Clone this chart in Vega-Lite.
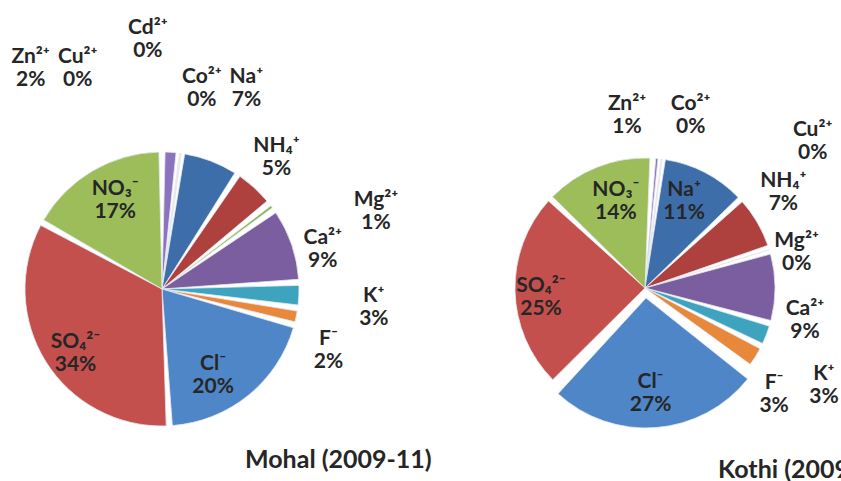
{
  "$schema": "https://vega.github.io/schema/vega-lite/v6.json",
  "width": 841,
  "height": 481,
  "autosize": {"type": "none"},
  "padding": 0,
  "background": "white",
  "config": {
    "view": {"stroke": null},
    "text": {"font": "Lato", "fontWeight": "bold", "fontSize": 21, "lineBreak": "\n", "lineHeight": 23, "color": "#262626", "align": "center", "baseline": "middle"}
  },
  "datasets": {
    "mohal": [
      {"site": "Mohal", "ion": "Zn", "o": 1, "value": 2, "label": "Zn²⁺\n2%"},
      {"site": "Mohal", "ion": "Cu", "o": 2, "value": 0.1, "label": "Cu²⁺\n0%"},
      {"site": "Mohal", "ion": "Cd", "o": 3, "value": 0.1, "label": "Cd²⁺\n0%"},
      {"site": "Mohal", "ion": "Co", "o": 4, "value": 0.1, "label": "Co²⁺\n0%"},
      {"site": "Mohal", "ion": "Na", "o": 5, "value": 7, "label": "Na⁺\n7%"},
      {"site": "Mohal", "ion": "NH4", "o": 6, "value": 5, "label": "NH₄⁺\n5%"},
      {"site": "Mohal", "ion": "Mg", "o": 7, "value": 1, "label": "Mg²⁺\n1%"},
      {"site": "Mohal", "ion": "Ca", "o": 8, "value": 9, "label": "Ca²⁺\n9%"},
      {"site": "Mohal", "ion": "K", "o": 9, "value": 3, "label": "K⁺\n3%"},
      {"site": "Mohal", "ion": "F", "o": 10, "value": 2, "label": "F⁻\n2%"},
      {"site": "Mohal", "ion": "Cl", "o": 11, "value": 20, "label": "Cl⁻\n20%"},
      {"site": "Mohal", "ion": "SO4", "o": 12, "value": 34, "label": "SO₄²⁻\n34%"},
      {"site": "Mohal", "ion": "NO3", "o": 13, "value": 17, "label": "NO₃⁻\n17%"}
    ],
    "kothi": [
      {"site": "Kothi", "ion": "Zn", "o": 1, "value": 1, "label": "Zn²⁺\n1%"},
      {"site": "Kothi", "ion": "Co", "o": 2, "value": 0.1, "label": "Co²⁺\n0%"},
      {"site": "Kothi", "ion": "Cu", "o": 3, "value": 0.1, "label": "Cu²⁺\n0%"},
      {"site": "Kothi", "ion": "Na", "o": 4, "value": 11, "label": "Na⁺\n11%"},
      {"site": "Kothi", "ion": "NH4", "o": 5, "value": 7, "label": "NH₄⁺\n7%"},
      {"site": "Kothi", "ion": "Mg", "o": 6, "value": 0.4, "label": "Mg²⁺\n0%"},
      {"site": "Kothi", "ion": "Ca", "o": 7, "value": 9, "label": "Ca²⁺\n9%"},
      {"site": "Kothi", "ion": "K", "o": 8, "value": 3, "label": "K⁺\n3%"},
      {"site": "Kothi", "ion": "F", "o": 9, "value": 3, "label": "F⁻\n3%"},
      {"site": "Kothi", "ion": "Cl", "o": 10, "value": 27, "label": "Cl⁻\n27%"},
      {"site": "Kothi", "ion": "SO4", "o": 11, "value": 25, "label": "SO₄²⁻\n25%"},
      {"site": "Kothi", "ion": "NO3", "o": 12, "value": 14, "label": "NO₃⁻\n14%"}
    ],
    "titles": [
      {"site": "Mohal", "title": "Mohal (2009-11)"},
      {"site": "Kothi", "title": "Kothi (2009-11)"}
    ]
  },
  "layer": [
    {
      "data": {"name": "mohal"},
      "encoding": {
        "x": {"field": "site", "type": "nominal", "scale": {"type": "point", "domain": ["Mohal", "Kothi"], "range": [162, 645], "padding": 0}, "axis": null},
        "y": {"field": "site", "type": "nominal", "scale": {"type": "point", "domain": ["Mohal", "Kothi"], "range": [289, 288], "padding": 0}, "axis": null},
        "theta": {"field": "value", "type": "quantitative", "stack": true, "scale": {"range": [0, 6.2832]}},
        "order": {"field": "o", "type": "quantitative"}
      },
      "layer": [
        {
          "mark": {"type": "arc", "outerRadius": 137, "padAngle": 0.045, "stroke": "#e4e9f0", "strokeWidth": 0.8},
          "encoding": {
            "color": {"field": "ion", "type": "nominal", "legend": null,
              "scale": {"domain": ["Zn", "Cu", "Cd", "Co", "Na", "NH4", "Mg", "Ca", "K", "F", "Cl", "SO4", "NO3"],
                        "range": ["#8B74BD", "#4F81BD", "#C0504D", "#9BBB59", "#3E6EA9", "#AE403D", "#8AB44F", "#7B5EA0", "#3DA3BF", "#E8883A", "#4F86C7", "#C4504D", "#9DBD5B"]}}
          }
        },
        {"mark": {"type": "text", "radius": 170, "dx": -142, "dy": -62}, "encoding": {"text": {"condition": {"test": "datum.ion === 'Zn'", "field": "label", "type": "nominal"}, "value": ""}}},
        {"mark": {"type": "text", "radius": 170, "dx": -106, "dy": -63}, "encoding": {"text": {"condition": {"test": "datum.ion === 'Cu'", "field": "label", "type": "nominal"}, "value": ""}}},
        {"mark": {"type": "text", "radius": 170, "dx": -37, "dy": -93}, "encoding": {"text": {"condition": {"test": "datum.ion === 'Cd'", "field": "label", "type": "nominal"}, "value": ""}}},
        {"mark": {"type": "text", "radius": 170, "dx": 16, "dy": -44}, "encoding": {"text": {"condition": {"test": "datum.ion === 'Co'", "field": "label", "type": "nominal"}, "value": ""}}},
        {"mark": {"type": "text", "radius": 170, "dx": 24, "dy": -53}, "encoding": {"text": {"condition": {"test": "datum.ion === 'Na'", "field": "label", "type": "nominal"}, "value": ""}}},
        {"mark": {"type": "text", "radius": 170, "dx": 0, "dy": -17}, "encoding": {"text": {"condition": {"test": "datum.ion === 'NH4'", "field": "label", "type": "nominal"}, "value": ""}}},
        {"mark": {"type": "text", "radius": 170, "dx": 78, "dy": 13}, "encoding": {"text": {"condition": {"test": "datum.ion === 'Mg'", "field": "label", "type": "nominal"}, "value": ""}}},
        {"mark": {"type": "text", "radius": 170, "dx": 0, "dy": 4}, "encoding": {"text": {"condition": {"test": "datum.ion === 'Ca'", "field": "label", "type": "nominal"}, "value": ""}}},
        {"mark": {"type": "text", "radius": 170, "dx": 42, "dy": -1}, "encoding": {"text": {"condition": {"test": "datum.ion === 'K'", "field": "label", "type": "nominal"}, "value": ""}}},
        {"mark": {"type": "text", "radius": 170, "dx": 0, "dy": 16}, "encoding": {"text": {"condition": {"test": "datum.ion === 'F'", "field": "label", "type": "nominal"}, "value": ""}}},
        {"mark": {"type": "text", "radius": 102, "dx": -13, "dy": -4}, "encoding": {"text": {"condition": {"test": "datum.ion === 'Cl'", "field": "label", "type": "nominal"}, "value": ""}}},
        {"mark": {"type": "text", "radius": 102, "dx": 0, "dy": -1}, "encoding": {"text": {"condition": {"test": "datum.ion === 'SO4'", "field": "label", "type": "nominal"}, "value": ""}}},
        {"mark": {"type": "text", "radius": 102, "dx": 5, "dy": -12}, "encoding": {"text": {"condition": {"test": "datum.ion === 'NO3'", "field": "label", "type": "nominal"}, "value": ""}}}
      ]
    },
    {
      "data": {"name": "kothi"},
      "encoding": {
        "x": {"field": "site", "type": "nominal", "axis": null},
        "y": {"field": "site", "type": "nominal", "axis": null},
        "theta": {"field": "value", "type": "quantitative", "stack": true, "scale": {"range": [0.06, 6.3432]}},
        "order": {"field": "o", "type": "quantitative"}
      },
      "layer": [
        {
          "mark": {"type": "arc", "outerRadius": 130, "padAngle": 0.045, "stroke": "#e4e9f0", "strokeWidth": 0.8},
          "encoding": {
            "color": {"field": "ion", "type": "nominal", "legend": null},
            "opacity": {"condition": {"test": "datum.ion === 'Cl'", "value": 0}, "value": 1}
          }
        },
        {
          "mark": {"type": "arc", "outerRadius": 130, "padAngle": 0.045, "stroke": "#e4e9f0", "strokeWidth": 0.8, "xOffset": 1, "yOffset": 10},
          "encoding": {
            "color": {"field": "ion", "type": "nominal", "legend": null},
            "opacity": {"condition": {"test": "datum.ion === 'Cl'", "value": 1}, "value": 0}
          }
        },
        {"mark": {"type": "text", "radius": 165, "dx": -33, "dy": -20}, "encoding": {"text": {"condition": {"test": "datum.ion === 'Zn'", "field": "label", "type": "nominal"}, "value": ""}}},
        {"mark": {"type": "text", "radius": 165, "dx": 25, "dy": -20}, "encoding": {"text": {"condition": {"test": "datum.ion === 'Co'", "field": "label", "type": "nominal"}, "value": ""}}},
        {"mark": {"type": "text", "radius": 165, "dx": 146, "dy": 6}, "encoding": {"text": {"condition": {"test": "datum.ion === 'Cu'", "field": "label", "type": "nominal"}, "value": ""}}},
        {"mark": {"type": "text", "radius": 165, "dx": -4, "dy": -24}, "encoding": {"text": {"condition": {"test": "datum.ion === 'NH4'", "field": "label", "type": "nominal"}, "value": ""}}},
        {"mark": {"type": "text", "radius": 165, "dx": -6, "dy": 2}, "encoding": {"text": {"condition": {"test": "datum.ion === 'Mg'", "field": "label", "type": "nominal"}, "value": ""}}},
        {"mark": {"type": "text", "radius": 165, "dx": -5, "dy": 22}, "encoding": {"text": {"condition": {"test": "datum.ion === 'Ca'", "field": "label", "type": "nominal"}, "value": ""}}},
        {"mark": {"type": "text", "radius": 165, "dx": 25, "dy": 26}, "encoding": {"text": {"condition": {"test": "datum.ion === 'K'", "field": "label", "type": "nominal"}, "value": ""}}},
        {"mark": {"type": "text", "radius": 165, "dx": -11, "dy": 8}, "encoding": {"text": {"condition": {"test": "datum.ion === 'F'", "field": "label", "type": "nominal"}, "value": ""}}},
        {"mark": {"type": "text", "radius": 98, "dx": -6, "dy": -11}, "encoding": {"text": {"condition": {"test": "datum.ion === 'Na'", "field": "label", "type": "nominal"}, "value": ""}}},
        {"mark": {"type": "text", "radius": 98, "dx": -2, "dy": -4}, "encoding": {"text": {"condition": {"test": "datum.ion === 'Cl'", "field": "label", "type": "nominal"}, "value": ""}}},
        {"mark": {"type": "text", "radius": 98, "dx": -6, "dy": -4}, "encoding": {"text": {"condition": {"test": "datum.ion === 'SO4'", "field": "label", "type": "nominal"}, "value": ""}}},
        {"mark": {"type": "text", "radius": 98, "dx": 7, "dy": -7}, "encoding": {"text": {"condition": {"test": "datum.ion === 'NO3'", "field": "label", "type": "nominal"}, "value": ""}}}
      ]
    },
    {
      "data": {"name": "titles"},
      "transform": [{"filter": "datum.site === 'Mohal'"}],
      "mark": {"type": "text", "align": "left", "baseline": "alphabetic", "dx": 83, "dy": 179, "fontSize": 25},
      "encoding": {
        "x": {"field": "site", "type": "nominal", "axis": null},
        "y": {"field": "site", "type": "nominal", "axis": null},
        "text": {"field": "title", "type": "nominal"}
      }
    },
    {
      "data": {"name": "titles"},
      "transform": [{"filter": "datum.site === 'Kothi'"}],
      "mark": {"type": "text", "align": "left", "baseline": "alphabetic", "dx": 73, "dy": 190, "fontSize": 25},
      "encoding": {
        "x": {"field": "site", "type": "nominal", "axis": null},
        "y": {"field": "site", "type": "nominal", "axis": null},
        "text": {"field": "title", "type": "nominal"}
      }
    }
  ],
  "resolve": {"scale": {"theta": "independent"}}
}
